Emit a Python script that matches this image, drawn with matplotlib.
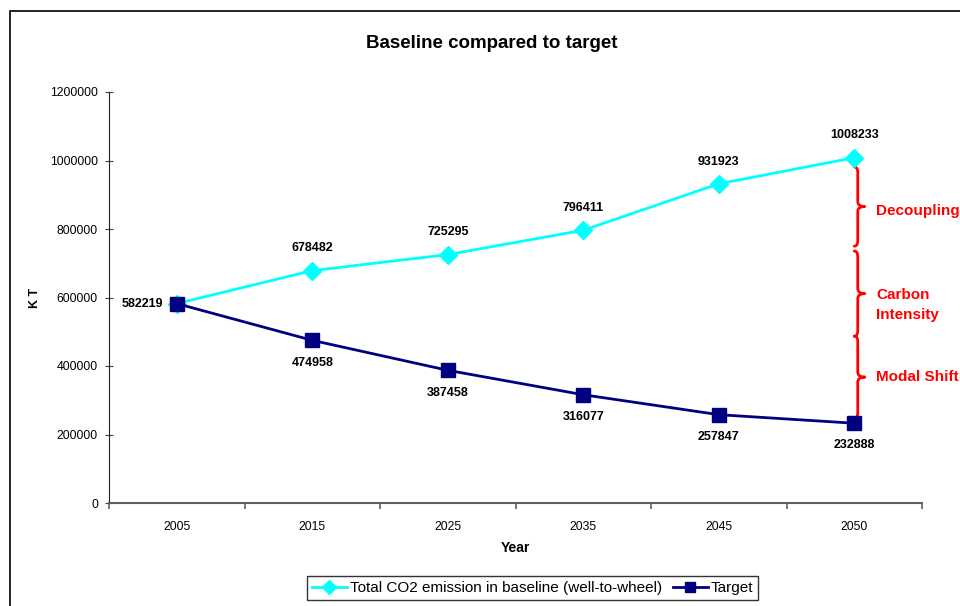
import matplotlib
matplotlib.use("Agg")
import matplotlib.pyplot as plt
from matplotlib.patches import Rectangle, PathPatch
from matplotlib.path import Path
from matplotlib.ticker import FuncFormatter

plt.rcParams['font.family'] = ['Liberation Sans', 'DejaVu Sans']

years = ["2005", "2015", "2025", "2035", "2045", "2050"]
baseline = [582219, 678482, 725295, 796411, 931923, 1008233]
target = [582219, 474958, 387458, 316077, 257847, 232888]
measures = ["Decoupling", "Carbon\nIntensity", "Modal Shift"]

fig = plt.figure(figsize=(9.6, 6.06), dpi=100)
ax = fig.add_axes([109 / 960, 1 - 503 / 606, (922 - 109) / 960, (503 - 92) / 606])

x = list(range(len(years)))
ax.plot(x, baseline, color="#00FFFF", lw=2.0, marker="D", ms=9,
        label="Total CO2 emission in baseline (well-to-wheel)", zorder=3)
ax.plot(x, target, color="#000080", lw=2.0, marker="s", ms=10,
        label="Target", zorder=4)

lab_kw = dict(fontsize=9, fontweight="bold", ha="center", va="center",
              textcoords="offset points")
for i, v in enumerate(baseline):
    if i == 0:
        continue
    ax.annotate(f"{v}", (i, v), xytext=(0, 16), **lab_kw)
for i, v in enumerate(target):
    if i == 0:
        ax.annotate(f"{v}", (i, v), xytext=(-25, 0), **lab_kw)
        continue
    ax.annotate(f"{v}", (i, v), xytext=(0, -16), **lab_kw)


def curly_brace(ax, xe, y_top, y_bot, a, b, color):
    """Right-pointing curly brace: ends at xe, spine at xe+a, tip at xe+a+b."""
    ym = (y_top + y_bot) / 2
    xs = xe + a
    ht = (y_top - ym)
    hb = (ym - y_bot)
    verts = [
        (xe, y_top),
        (xs, y_top), (xs, y_top - ht * 0.14),
        (xs, ym + ht * 0.12),
        (xs, ym), (xs + b, ym),
        (xs, ym), (xs, ym - hb * 0.12),
        (xs, y_bot + hb * 0.14),
        (xs, y_bot), (xe, y_bot),
    ]
    codes = [Path.MOVETO,
             Path.CURVE3, Path.CURVE3,
             Path.LINETO,
             Path.CURVE3, Path.CURVE3,
             Path.CURVE3, Path.CURVE3,
             Path.LINETO,
             Path.CURVE3, Path.CURVE3]
    patch = PathPatch(Path(verts, codes), fill=False, edgecolor=color, lw=2.0,
                      clip_on=False, capstyle="round", joinstyle="round")
    ax.add_patch(patch)
    return ym


top, bot = baseline[-1], target[-1]
step = (top - bot) / 3
top_inset = [27000, 14000, 4000]
bot_inset = [0, -4500, 15000]
text_shift = [-3, -8, 0]
for k, name in enumerate(measures):
    yt = top - k * step - top_inset[k]
    yb = top - (k + 1) * step + bot_inset[k]
    ym = curly_brace(ax, 5.0, yt, yb, 0.026, 0.052, "#FF0000")
    ax.annotate(name, (5.16, ym), xytext=(0, text_shift[k]),
                textcoords="offset points", color="#FF0000",
                fontsize=11, fontweight="bold", ha="left", va="center",
                linespacing=1.55, annotation_clip=False)

ax.set_xlim(-0.5, 5.5)
ax.set_ylim(0, 1200000)
ax.set_yticks(range(0, 1200001, 200000))
ax.yaxis.set_major_formatter(FuncFormatter(lambda v, p: f"{int(v)}"))
ax.set_xticks(x)
ax.set_xticklabels(years)
ax.set_xticks([i - 0.5 for i in range(len(years) + 1)], minor=True)
ax.tick_params(axis="x", which="major", length=0, labelsize=8.8, pad=13)
ax.tick_params(axis="x", which="minor", length=4, direction="out",
               color="#606060", width=1.2)
ax.tick_params(axis="y", length=6, direction="inout", labelsize=8.8,
               color="#404040", pad=5)
for s in ("top", "right"):
    ax.spines[s].set_visible(False)
ax.spines["left"].set_color("#202020")
ax.spines["bottom"].set_color("#606060")
ax.spines["bottom"].set_linewidth(1.5)
ax.set_facecolor("none")

fig.text(492 / 960, 1 - 44 / 606, "Baseline compared to target",
         fontsize=13.5, fontweight="bold", ha="center", va="center")
ax.set_xlabel("Year", fontsize=10, fontweight="bold", va="center", ha="center")
ax.xaxis.set_label_coords(0.5, (503 - 548) / 411)
ax.set_ylabel("K T", fontsize=9, fontweight="bold", va="center", ha="center")
ax.yaxis.set_label_coords((35 - 109) / 813, 0.5)

leg = ax.legend(loc="center", bbox_to_anchor=(532.5 / 960, 1 - 588 / 606),
                bbox_transform=fig.transFigure, ncol=2, frameon=True,
                fancybox=False, edgecolor="black", fontsize=11,
                handlelength=2.3, columnspacing=0.7, handletextpad=0.2,
                borderpad=0.3, markerscale=0.75)
leg.get_frame().set_linewidth(1.0)

fig.patches.append(Rectangle((9.5 / 960, -0.1), 1.2, 1 - 11 / 606 + 0.1,
                             transform=fig.transFigure, fill=False,
                             edgecolor="black", lw=1.2))

fig.savefig("out.png", dpi=100)
